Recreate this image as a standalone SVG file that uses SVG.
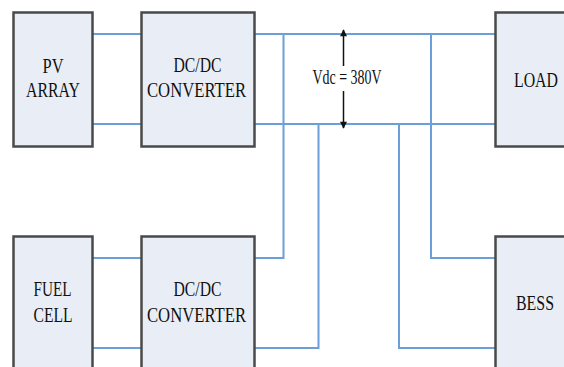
<svg xmlns="http://www.w3.org/2000/svg" width="564" height="367" viewBox="0 0 564 367">
<defs>
<style>
.box{fill:#e9eef6;stroke:#4a4a4a;stroke-width:2.5}
.w{fill:none;stroke:#6a9fda;stroke-width:2}
.t{font-family:"Liberation Serif","Times New Roman",serif;font-size:21px;fill:#111;text-anchor:middle}
.a{stroke:#111;stroke-width:1.5;fill:none}
</style>
<marker id="ah" viewBox="0 0 10 10" refX="9" refY="5" markerWidth="8" markerHeight="7" markerUnits="userSpaceOnUse" orient="auto">
<path d="M0,0 L10,5 L0,10 z" fill="#111"/>
</marker>
</defs>
<rect width="564" height="367" fill="#fff"/>
<g id="connectors">
<path class="w" d="M93,34H141M93,124H141"/>
<path class="w" d="M93,258H141M93,348H141"/>
<path class="w" d="M255,34H495M255,124H495"/>
<path class="w" d="M255,258H283.5V34"/>
<path class="w" d="M255,348H318.5V124"/>
<path class="w" d="M399,124V348H495"/>
<path class="w" d="M431,34V258H495"/>
<line class="a" x1="343.5" y1="66" x2="343.5" y2="30" marker-end="url(#ah)"/>
<line class="a" x1="343.5" y1="91" x2="343.5" y2="128" marker-end="url(#ah)"/>
<text class="t" x="347" y="83.5" textLength="69" lengthAdjust="spacingAndGlyphs" style="font-size:20px">Vdc = 380V</text>
</g>
<g id="pv">
<rect class="box" x="13.5" y="12.5" width="79" height="134"/>
<text class="t" x="53" y="72.5" textLength="21" lengthAdjust="spacingAndGlyphs">PV</text>
<text class="t" x="53" y="97" textLength="54" lengthAdjust="spacingAndGlyphs">ARRAY</text>
</g>
<g id="conv1">
<rect class="box" x="141.5" y="12.5" width="113" height="134"/>
<text class="t" x="197.5" y="71.5" textLength="48" lengthAdjust="spacingAndGlyphs">DC/DC</text>
<text class="t" x="196.5" y="96.7" textLength="99" lengthAdjust="spacingAndGlyphs">CONVERTER</text>
</g>
<g id="fuel">
<rect class="box" x="13.5" y="236.5" width="79" height="140"/>
<text class="t" x="52.5" y="296" textLength="38" lengthAdjust="spacingAndGlyphs">FUEL</text>
<text class="t" x="53" y="322" textLength="39" lengthAdjust="spacingAndGlyphs">CELL</text>
</g>
<g id="conv2">
<rect class="box" x="141.5" y="236.5" width="113" height="140"/>
<text class="t" x="197.5" y="296" textLength="48" lengthAdjust="spacingAndGlyphs">DC/DC</text>
<text class="t" x="196.5" y="322" textLength="99" lengthAdjust="spacingAndGlyphs">CONVERTER</text>
</g>
<g id="load">
<rect class="box" x="495.5" y="12.5" width="80" height="134"/>
<text class="t" transform="translate(536,86.7) scale(0.755,1)" x="0" y="0">LOAD</text>
</g>
<g id="bess">
<rect class="box" x="495.5" y="236.5" width="80" height="140"/>
<text class="t" transform="translate(535,309.7) scale(0.757,1)" x="0" y="0">BESS</text>
</g>
</svg>
